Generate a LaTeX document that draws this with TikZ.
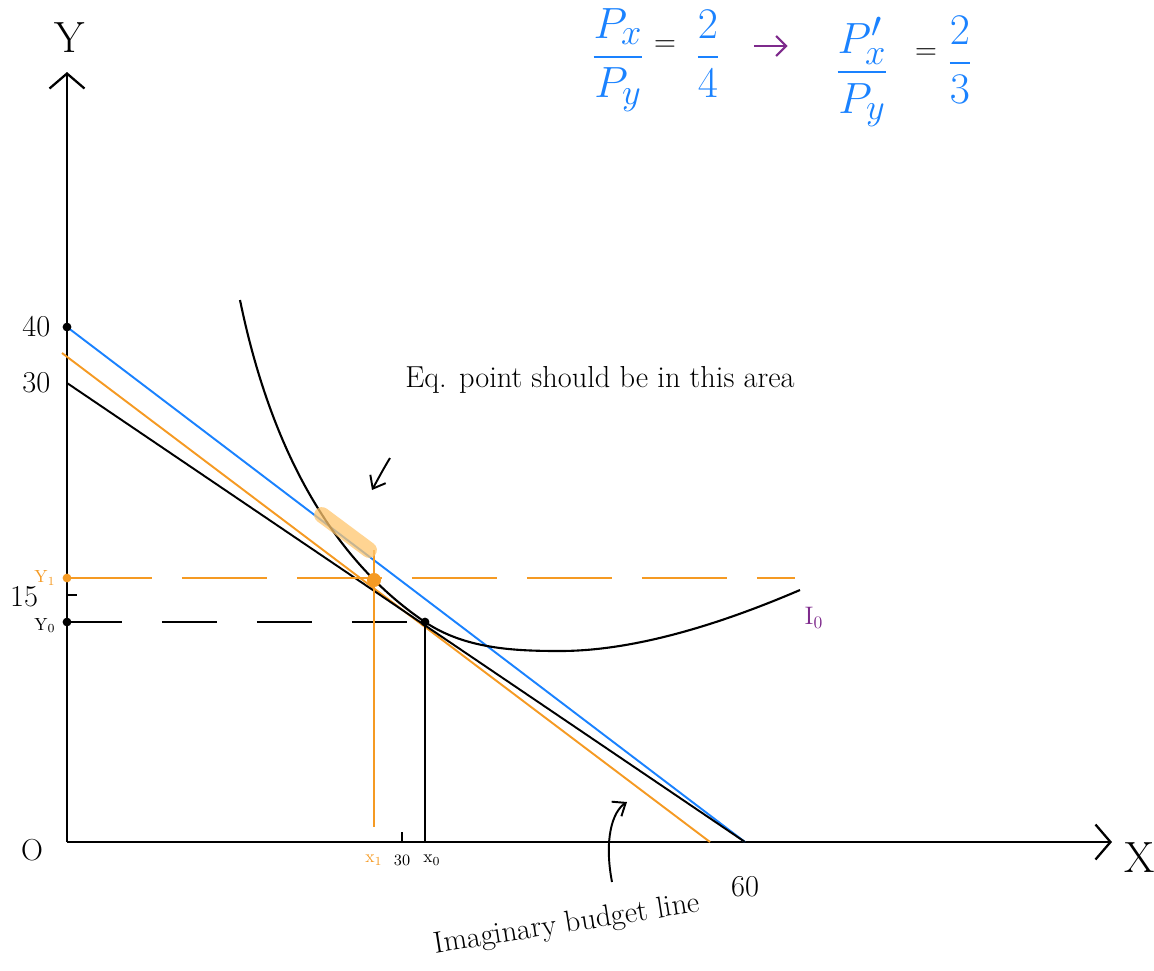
\documentclass[tikz,border=0pt]{standalone}
\usepackage{amsmath}
\usetikzlibrary{arrows.meta,positioning}
\definecolor{lineblue}{HTML}{1A82FF}
\definecolor{lineorange}{HTML}{F59A23}
\definecolor{softorange}{HTML}{FFC66E}
\definecolor{notepurple}{HTML}{7E2A8C}

\begin{document}
\begin{tikzpicture}[x=0.02cm,y=-0.02cm,
        axis/.style={line width=1.3pt,-{Straight Barb[length=3mm,width=7mm]}},
        budget/.style={line width=1.1pt},
        guide/.style={line width=1.1pt,dash pattern=on 11mm off 7mm},
        dot/.style={circle,fill,inner sep=0pt,minimum size=5pt},
        ticklbl/.style={font=\LARGE},
        small/.style={font=\normalsize},
        note/.style={font=\LARGE},
        frac/.style={font=\Huge,text=lineblue,inner sep=1pt},
        pointer/.style={line width=1.1pt,-{Straight Barb[length=2.2mm,width=3.5mm]}}
      ]
        \useasboundingbox (0,0) rectangle (1154,971);
        % axes
        \coordinate (o) at (67,842);
        \coordinate (ytop) at (67,72);
        \coordinate (xend) at (1112,842);
        \draw[axis] (o) -- (ytop);
        \draw[axis] (o) -- (xend);
        \node[font=\Huge] (ylbl) at (70,38) {Y};
        \node[font=\Huge] (xlbl) at (1140,858) {X};
        \node[ticklbl] (olbl) at (32,850) {O};

        % points on the axes
        \coordinate (y40) at (67,327);
        \coordinate (y30) at (67,383);
        \coordinate (y1) at (67,578);
        \coordinate (y15) at (67,595);
        \coordinate (y0) at (67,622);
        \coordinate (x1) at (374,842);
        \coordinate (x30) at (402,842);
        \coordinate (x0) at (425,842);
        \coordinate (x60) at (745,842);
        \coordinate (xo) at (710,842);
        \coordinate (yo) at (62,353);

        \node[ticklbl,left=6pt of y40] (l40) {40};
        \node[ticklbl,left=6pt of y30] (l30) {30};
        \node[ticklbl,left=13pt of y15,yshift=-1pt] (l15) {15};
        \node[small,text=lineorange,left=3pt of y1] (ly1) {Y$_1$};
        \node[small,left=3pt of y0,yshift=-2pt] (ly0) {Y$_0$};
        \node[small,text=lineorange,below=4pt of x1] (lx1) {x$_1$};
        \node[font=\small,below=4pt of x30] (l30x) {30};
        \node[small,below=4pt of x0,xshift=4pt] (lx0) {x$_0$};
        \node[ticklbl,below=16pt of x60] (l60) {60};
        \draw[line width=1.1pt] (y15) -- ++(10,0);
        \draw[line width=1.1pt] (x30) -- ++(0,-10);

        % budget lines
        \draw[budget,lineblue] (y40) -- (x60);
        \draw[budget,lineorange] (yo) -- (xo);
        \draw[budget] (y30) -- (x60);

        % indifference curve
        \coordinate (e0) at (425,622);
        \coordinate (e1) at (374,580);
        \draw[line width=1.2pt] (240,300) .. controls (275,470) and (345,568) .. (e0)
          .. controls (465,649) and (515,651) .. (560,651)
          .. controls (640,651) and (730,620) .. (800,590);
        \node[font=\Large,text=notepurple] (i0) at (814,618) {I$_0$};

        % tangency points
        \draw[guide,dash pattern=on 11mm off 8mm] (y0) -- (e0);
        \draw[line width=1.1pt] (e0) -- (x0);
        \draw[guide,lineorange,dash pattern=on 17mm off 6mm] (y1) -- (795,578);
        \draw[line width=1.1pt,lineorange] (374,550) -- ([yshift=3mm]x1);
        \node[dot] at (e0) {};
        \node[dot,fill=lineorange,minimum size=8pt] at (e1) {};
        \node[dot] at (y40) {};
        \node[dot,fill=lineorange] at (y1) {};
        \node[dot] at (y0) {};

        % area of the new equilibrium
        \draw[softorange,line width=9pt,line cap=round,opacity=0.75] (322,515) -- (369,550);

        % notes
        \node[note] (eqnote) at (600,380) {Eq. point should be in this area};
        \coordinate (pa) at (390,458);
        \coordinate (pb) at (372,490);
        \draw[pointer] (pa) .. controls (384,468) .. (pb);

        \node[note,rotate=9] (imag) at (567,925) {Imaginary budget line};
        \coordinate (ptip) at (627,802);
        \draw[pointer] (612,882) .. controls (604,840) and (612,812) .. (ptip);

        % price ratios
        \node[frac] (pold) at (618,60) {$\dfrac{P_x}{P_y}$};
        \node[font=\LARGE] (eq1) at (665,46) {$=$};
        \node[frac] (r24) at (708,54) {$\dfrac{2}{4}$};
        \node[frac] (pnew) at (862,72) {$\dfrac{P_x'}{P_y}$};
        \node[font=\LARGE] (eq2) at (926,54) {$=$};
        \node[frac] (r23) at (960,60) {$\dfrac{2}{3}$};
        \draw[notepurple,line width=1.3pt,-{Straight Barb[length=2mm]},shorten <=18pt,shorten >=26pt]
          (r24.east |- eq1) -- (pnew.west |- eq1);
      \end{tikzpicture}
\end{document}
